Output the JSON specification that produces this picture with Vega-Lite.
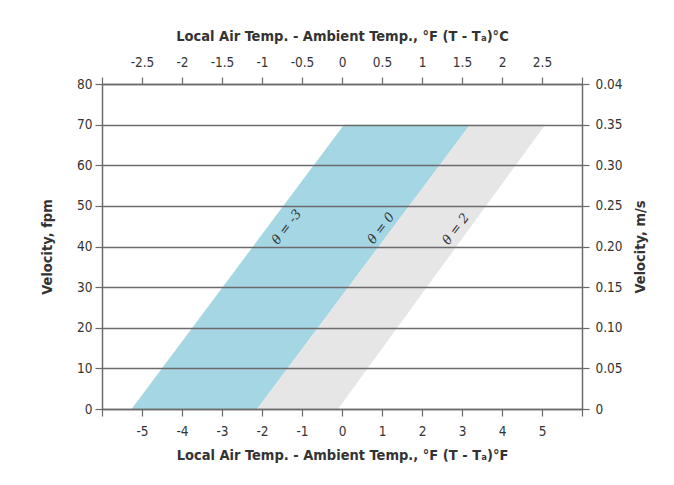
{
  "$schema": "https://vega.github.io/schema/vega-lite/v6.json",
  "width": 480,
  "height": 325,
  "autosize": {"type": "none"},
  "padding": {"left": 102, "top": 84, "right": 92, "bottom": 76},
  "config": {
    "view": {"stroke": null},
    "axis": {
      "labelFont": "DejaVu Sans Condensed, Roboto, sans-serif",
      "titleFont": "DejaVu Sans Condensed, Roboto, sans-serif",
      "labelFontSize": 13.5,
      "titleFontSize": 14.5,
      "titleFontWeight": "bold",
      "labelColor": "#333333",
      "titleColor": "#333333",
      "domainColor": "#6b6b6b",
      "tickColor": "#6b6b6b",
      "domainWidth": 1.5,
      "tickWidth": 1.2,
      "gridColor": "#6b6b6b",
      "gridWidth": 1.5,
      "tickSize": 7,
      "labelPadding": 3
    }
  },
  "datasets": {
    "bands": [
      {"v": 0, "a": -5.26, "b": -2.12, "c": -0.1},
      {"v": 70, "a": 0.05, "b": 3.2, "c": 5.08}
    ],
    "labels": [
      {"v": 44.8, "x": -1.38, "t": "θ = -3"},
      {"v": 44.5, "x": 0.98, "t": "θ = 0"},
      {"v": 44.3, "x": 2.85, "t": "θ = 2"}
    ]
  },
  "layer": [
    {
      "data": {"name": "bands"},
      "mark": {"type": "area", "orient": "horizontal", "color": "#a5d6e4", "opacity": 1},
      "encoding": {
        "y": {
          "field": "v", "type": "quantitative",
          "scale": {"domain": [0, 80], "nice": false},
          "axis": {
            "orient": "left", "values": [0, 10, 20, 30, 40, 50, 60, 70, 80],
            "grid": true, "zindex": 1, "title": "Velocity, fpm",
            "titlePadding": 22,
            "labelExpr": "'' + datum.value"
          }
        },
        "x": {
          "field": "a", "type": "quantitative",
          "scale": {"domain": [-6, 6], "nice": false},
          "axis": {
            "orient": "bottom", "values": [-6, -5, -4, -3, -2, -1, 0, 1, 2, 3, 4, 5, 6],
            "grid": false, "zindex": 1,
            "title": "Local Air Temp. - Ambient Temp., °F (T - Tₐ)°F",
            "labelPadding": 8, "titlePadding": 11,
            "labelExpr": "abs(datum.value) == 6 ? '' : '' + datum.value"
          }
        },
        "x2": {"field": "b"}
      }
    },
    {
      "data": {"name": "bands"},
      "mark": {"type": "area", "orient": "horizontal", "color": "#e6e6e6", "opacity": 1},
      "encoding": {
        "y": {
          "field": "v", "type": "quantitative",
          "scale": {"domain": [0, 80], "nice": false},
          "axis": {
            "orient": "right", "values": [0, 10, 20, 30, 40, 50, 60, 70, 80],
            "grid": false, "zindex": 1, "title": "Velocity, m/s",
            "titleAngle": 270, "titleBaseline": "top", "titlePadding": 11,
            "labelPadding": 6,
            "labelExpr": "datum.value == 80 ? '0.04' : datum.value == 0 ? '0' : format(datum.value / 200, '.2f')"
          }
        },
        "x": {
          "field": "b", "type": "quantitative",
          "scale": {"domain": [-6, 6], "nice": false},
          "axis": {
            "orient": "top", "values": [-6, -5, -4, -3, -2, -1, 0, 1, 2, 3, 4, 5, 6],
            "grid": false, "zindex": 1,
            "title": "Local Air Temp. - Ambient Temp., °F (T - Tₐ)°C",
            "labelPadding": 8, "titlePadding": 12,
            "labelExpr": "abs(datum.value) == 6 ? '' : '' + (datum.value / 2)"
          }
        },
        "x2": {"field": "c"}
      }
    },
    {
      "data": {"name": "labels"},
      "mark": {"type": "text", "angle": -53, "font": "DejaVu Serif", "fontStyle": "italic", "fontSize": 13, "color": "#333333"},
      "encoding": {
        "x": {"field": "x", "type": "quantitative", "scale": {"domain": [-6, 6], "nice": false}, "axis": null},
        "y": {"field": "v", "type": "quantitative", "scale": {"domain": [0, 80], "nice": false}, "axis": null},
        "text": {"field": "t"}
      }
    }
  ],
  "resolve": {"scale": {"x": "independent", "y": "independent"}}
}
